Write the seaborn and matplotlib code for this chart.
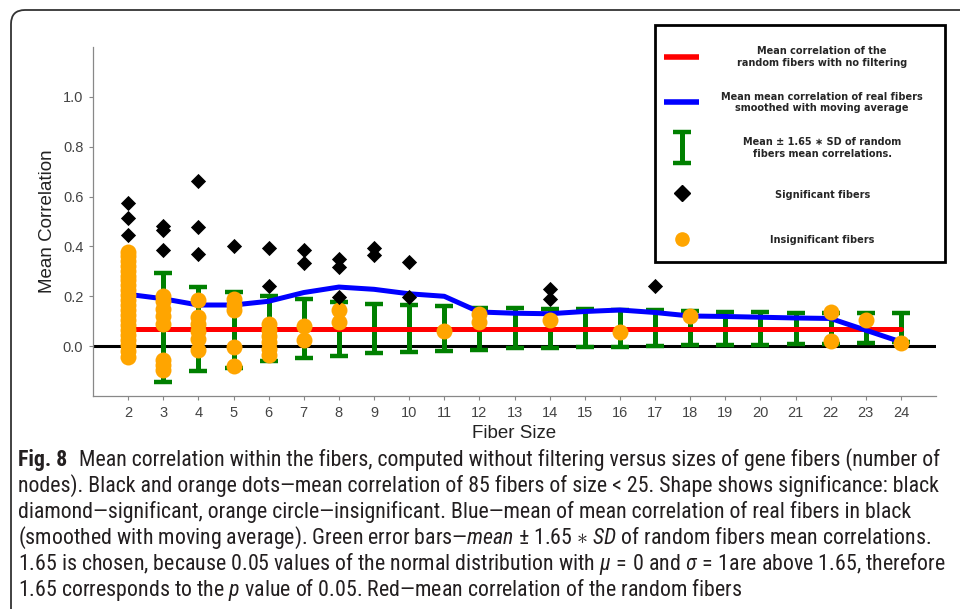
import numpy as np
import pandas as pd
import matplotlib
matplotlib.use("Agg")
import matplotlib.pyplot as plt
import seaborn as sns
from matplotlib.lines import Line2D
from matplotlib.legend_handler import HandlerErrorbar
from matplotlib.patches import FancyBboxPatch, Rectangle
from matplotlib.transforms import IdentityTransform
from matplotlib import font_manager

# ---------------- data ----------------
sizes = [2, 3, 4, 5, 6, 7, 8, 9, 10, 11, 12, 13, 14, 15, 16, 17, 18, 19, 20, 21, 22, 23, 24]
random_mean = [0.07, 0.07, 0.07, 0.07, 0.07, 0.07, 0.07, 0.07, 0.07, 0.07, 0.07, 0.07,
               0.07, 0.07, 0.07, 0.07, 0.07, 0.07, 0.07, 0.07, 0.07, 0.07, 0.07]
real_smoothed = [0.208, 0.19, 0.165, 0.165, 0.18, 0.215, 0.237, 0.228, 0.21, 0.2, 0.137, 0.132,
                 0.13, 0.139, 0.145, 0.135, 0.121, 0.119, 0.116, 0.113, 0.111, 0.064, 0.017]

err_sizes = [3, 4, 5, 6, 7, 8, 9, 10, 11, 12, 13, 14, 15, 16, 17, 18, 19, 20, 21, 22, 23, 24]
err_upper = [0.292, 0.239, 0.219, 0.2, 0.188, 0.179, 0.171, 0.165, 0.161, 0.155, 0.152, 0.149,
             0.148, 0.145, 0.143, 0.14, 0.135, 0.135, 0.134, 0.134, 0.131, 0.131]
err_lower = [-0.145, -0.1, -0.087, -0.059, -0.048, -0.039, -0.029, -0.023, -0.019, -0.015, -0.009,
             -0.007, -0.005, -0.003, 0.001, 0.003, 0.005, 0.006, 0.007, 0.008, 0.012, 0.015]

sig_size = [2, 2, 2, 3, 3, 3, 4, 4, 4, 5, 6, 6, 7, 7, 8, 8, 8, 9, 9, 10, 10, 14, 14, 17]
sig_corr = [0.575, 0.515, 0.444, 0.48, 0.465, 0.385, 0.661, 0.479, 0.371, 0.401, 0.395, 0.241,
            0.385, 0.332, 0.348, 0.319, 0.197, 0.395, 0.364, 0.339, 0.197, 0.229, 0.188, 0.241]

ins_size = [2] * 22 + [3] * 8 + [4] * 6 + [5] * 5 + [6] * 6 + [7, 7, 8, 8, 11, 12, 12, 14, 16, 18, 22, 22, 23, 24]
ins_corr = [0.376, 0.36, 0.34, 0.32, 0.30, 0.28, 0.265, 0.245, 0.225, 0.205, 0.185, 0.165,
            0.145, 0.125, 0.105, 0.085, 0.065, 0.045, 0.025, 0.005, -0.02, -0.044,
            0.20, 0.18, 0.15, 0.12, 0.09, -0.055, -0.075, -0.095,
            0.185, 0.115, 0.09, 0.06, 0.03, -0.015,
            0.19, 0.165, 0.145, -0.005, -0.08,
            0.09, 0.065, 0.04, 0.015, -0.01, -0.035,
            0.081, 0.024, 0.145, 0.095, 0.059, 0.13, 0.095, 0.103, 0.057, 0.121, 0.135, 0.019, 0.105, 0.012]

y_ticks = [0.0, 0.2, 0.4, 0.6, 0.8, 1.0]
y_ticklabels = ["0.0", "0.2", "0.4", "0.6", "0.8", "1.0"]

legend_labels = ["Mean correlation of the\nrandom fibers with no filtering",
                 "Mean mean correlation of real fibers\nsmoothed with moving average",
                 "Mean \u00b1 1.65 \u2217 SD of random\nfibers mean correlations.",
                 "Significant fibers",
                 "Insignificant fibers"]

caption_head = "Fig. 8"
caption_lines = [
    "Mean correlation within the fibers, computed without filtering versus sizes of gene fibers (number of",
    "nodes). Black and orange dots\u2014mean correlation of 85 fibers of size < 25. Shape shows significance: black",
    "diamond\u2014significant, orange circle\u2014insignificant. Blue\u2014mean of mean correlation of real fibers in black",
    "(smoothed with moving average). Green error bars\u2014" + r"$\mathit{mean}$ $\pm$ 1.65 $\ast$ $\mathit{SD}$"
    + " of random fibers mean correlations.",
    "1.65 is chosen, because 0.05 values of the normal distribution with " + r"$\mu\,=\,0$ and $\sigma\,=\,1$"
    + "are above 1.65, therefore",
    "1.65 corresponds to the " + r"$\mathit{p}$" + " value of 0.05. Red\u2014mean correlation of the random fibers",
]

# ---------------- style ----------------
sns.set_theme(style="white")


def has_font(name):
    try:
        font_manager.findfont(font_manager.FontProperties(family=name), fallback_to_default=False)
        return True
    except Exception:
        return False


plot_font = "Liberation Sans" if has_font("Liberation Sans") else "DejaVu Sans"

# look for a condensed / narrow sans face for the caption
cap_family, cap_stretch = plot_font, "normal"
cands = []
for f in font_manager.fontManager.ttflist:
    nm = f.name
    st = str(f.stretch)
    if ("Narrow" in nm or "Condensed" in nm or st in ("condensed", "semi-condensed")) and "Mono" not in nm \
            and "Serif" not in nm and f.style == "normal" and f.weight in (400, "normal", "regular"):
        cands.append((nm, st))
pref = ["Liberation Sans Narrow", "Roboto Condensed", "Open Sans Condensed", "DejaVu Sans Condensed", "DejaVu Sans"]
chosen = None
for p in pref:
    for nm, st in cands:
        if nm == p:
            chosen = (nm, st)
            break
    if chosen:
        break
if chosen is None and cands:
    chosen = cands[0]
if chosen is not None:
    cap_family, cap_stretch = chosen

plt.rcParams["font.family"] = [plot_font, "DejaVu Sans"]
plt.rcParams["mathtext.fontset"] = "custom"
plt.rcParams["mathtext.rm"] = cap_family
plt.rcParams["mathtext.it"] = cap_family + ":italic"
plt.rcParams["mathtext.bf"] = cap_family + ":bold"

fig = plt.figure(figsize=(9.6, 6.09), dpi=100)
ax = fig.add_axes([93 / 960, 1 - 396 / 609, (936 - 93) / 960, (396 - 47) / 609])

df_lines = pd.DataFrame({"size": sizes, "random": random_mean, "real": real_smoothed})
df_sig = pd.DataFrame({"size": sig_size, "corr": sig_corr})
df_ins = pd.DataFrame({"size": ins_size, "corr": ins_corr})

ax.axhline(0, color="black", lw=2.2, zorder=1.5)

mid = [(u + l) / 2 for u, l in zip(err_upper, err_lower)]
yerr = [[m - l for m, l in zip(mid, err_lower)], [u - m for m, u in zip(mid, err_upper)]]
eb = ax.errorbar(err_sizes, mid, yerr=yerr, fmt="none", ecolor="#008000", elinewidth=3.6,
                 capsize=6.2, capthick=3.2, zorder=2)

sns.lineplot(data=df_lines, x="size", y="random", color="#ff0000", lw=3.6, ax=ax, zorder=3)
sns.lineplot(data=df_lines, x="size", y="real", color="#0000ff", lw=3.6, ax=ax, zorder=4)
sns.scatterplot(data=df_sig, x="size", y="corr", marker="D", s=60, color="black",
                linewidth=0, ax=ax, zorder=6)
sns.scatterplot(data=df_ins, x="size", y="corr", marker="o", s=132, color="#ffa500",
                linewidth=0, ax=ax, zorder=5)

ax.set_xlim(1, 25)
ax.set_ylim(-0.2, 1.2)
ax.set_xticks(sizes)
ax.set_xticklabels([str(s) for s in sizes])
ax.set_yticks(y_ticks)
ax.set_yticklabels(y_ticklabels)
ax.tick_params(axis="both", which="major", length=3, width=0.8, color="#888888",
               labelsize=10.5, labelcolor="#444444", direction="out", left=True, bottom=True, pad=4)
for side in ["top", "right"]:
    ax.spines[side].set_visible(False)
for side in ["left", "bottom"]:
    ax.spines[side].set_color("#888888")
    ax.spines[side].set_linewidth(0.9)
ax.set_xlabel("Fiber Size", fontsize=13.5, color="#222222", labelpad=4)
ax.set_ylabel("Mean Correlation", fontsize=13.5, color="#222222", labelpad=5)

# ---------------- legend (box drawn separately, contents by fig.legend) ----------------
legend_box = Rectangle((655, 609 - 262), 290, 237, transform=IdentityTransform(),
                       facecolor="white", edgecolor="black", lw=2, zorder=4)
fig.add_artist(legend_box)

h_red = Line2D([], [], color="#ff0000", lw=4, solid_capstyle="butt")
h_blue = Line2D([], [], color="#0000ff", lw=4, solid_capstyle="butt")
h_sig = Line2D([], [], color="black", marker="D", markersize=8.2, lw=0)
h_ins = Line2D([], [], color="#ffa500", marker="o", markersize=9.5, lw=0)
leg = fig.legend([h_red, h_blue, eb, h_sig, h_ins], legend_labels,
                 loc="upper left", bbox_to_anchor=(664 / 960, 1 - 46 / 609),
                 bbox_transform=fig.transFigure, frameon=False,
                 prop={"family": "DejaVu Sans", "weight": "bold", "size": 7},
                 handlelength=3.6, handleheight=5.6, handletextpad=2.3,
                 labelspacing=0.8, borderpad=0, borderaxespad=0,
                 handler_map={eb: HandlerErrorbar(yerr_size=1.6)})
leg.set_zorder(5)
for t in leg.get_texts():
    t.set_multialignment("center")

# ---------------- outer frame + caption ----------------
frame = FancyBboxPatch((11, -100), 1200, 609 - 10 + 100, boxstyle="round,pad=0,rounding_size=14",
                       transform=IdentityTransform(), facecolor="none", edgecolor="#333333", lw=1.3)
fig.add_artist(frame)

cap_color = "#231f20"
line_y = [460, 486, 512, 538, 564, 590]
fs0 = 13.0
head = fig.text(18 / 960, 1 - line_y[0] / 609, caption_head, fontsize=fs0, fontweight="bold",
                family=[cap_family, "DejaVu Sans"], stretch=cap_stretch, color=cap_color,
                va="center", ha="left")
cap_texts = []
for i, line in enumerate(caption_lines):
    cap_texts.append(fig.text(18 / 960, 1 - line_y[i] / 609, line, fontsize=fs0,
                              family=[cap_family, "DejaVu Sans"], stretch=cap_stretch,
                              color=cap_color, va="center", ha="left"))

fig.canvas.draw()
r = fig.canvas.get_renderer()
hw0 = head.get_window_extent(r).width
gap0 = 0.55 * fs0 * 100 / 72
needs = []
for i, t in enumerate(cap_texts):
    w = t.get_window_extent(r).width
    if i == 0:
        needs.append(fs0 * (942 - 18) / (hw0 + gap0 + w))
    else:
        needs.append(fs0 * (944 - 18) / w)
fs = min(needs)
head.set_fontsize(fs)
for t in cap_texts:
    t.set_fontsize(fs)
fig.canvas.draw()
hw = head.get_window_extent(r).width
cap_texts[0].set_x((18 + hw + 0.55 * fs * 100 / 72) / 960)

# center legend texts within the text column and level them with their symbols
fig.canvas.draw()
widths = [t.get_window_extent(r).width for t in leg.get_texts()]
W = max(widths)
for t, w in zip(leg.get_texts(), widths):
    t.set_x((W - w) / 2)
    t.set_y(6)

fig.savefig("out.png", dpi=100)
